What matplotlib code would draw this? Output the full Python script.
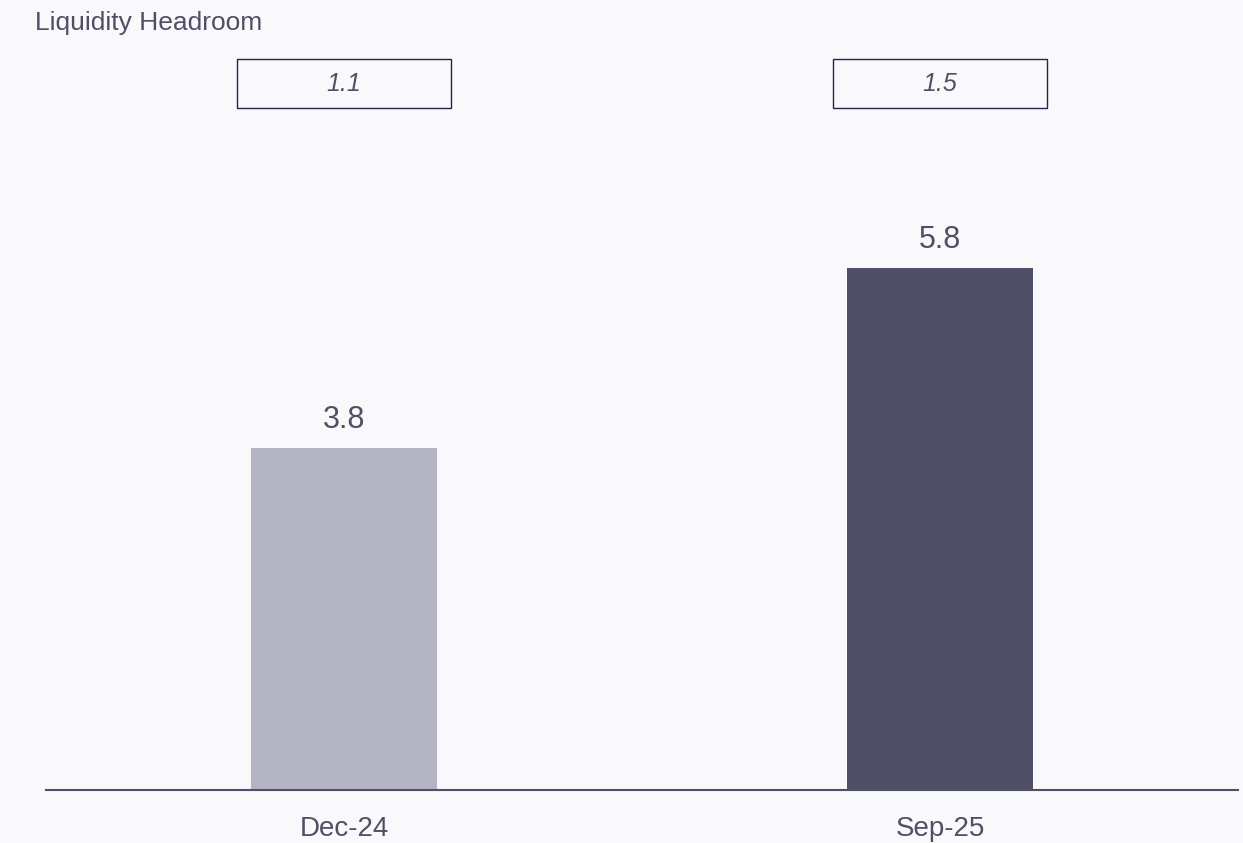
import matplotlib.pyplot as plt
from matplotlib.patches import Rectangle
import matplotlib.transforms as mtransforms

plt.rcParams['font.family'] = ['Liberation Sans', 'DejaVu Sans']

# data
periods = ['Dec-24', 'Sep-25']
headroom = [3.8, 5.8]
box_values = [1.1, 1.5]
bar_colors = ['#B5B4C5', '#4F4F66']

text_color = '#4F4F66'
bg = '#F9F9FC'

fig = plt.figure(figsize=(12.43, 8.43), dpi=100, facecolor=bg)
ax = fig.add_axes([46 / 1243, 53 / 843, 1192 / 1243, 790 / 843])
ax.set_facecolor(bg)

x = list(range(len(periods)))
bars = ax.bar(x, headroom, width=0.313, color=bar_colors)

# value labels above bars
for xi, v in zip(x, headroom):
    ax.text(xi, v + 0.14, f'{v:.1f}', ha='center', va='bottom',
            fontsize=22, color=text_color)

# boxed values at the top
trans = mtransforms.blended_transform_factory(ax.transData, ax.transAxes)
box_w = 0.358
for xi, v in zip(x, box_values):
    rect = Rectangle((xi - box_w / 2, 0.863), box_w, 0.062, transform=trans,
                     facecolor='none', edgecolor='#24244F', linewidth=1.0,
                     clip_on=False)
    ax.add_patch(rect)
    ax.text(xi, 0.894, f'{v:.1f}', transform=trans, ha='center', va='center',
            fontsize=18, style='italic', color=text_color)

ax.set_xlim(-0.5, 1.5)
ax.set_ylim(0, 790 / 90)
ax.set_xticks(x)
ax.set_xticklabels(periods, fontsize=20, color=text_color)
ax.tick_params(axis='x', length=0, pad=19)
ax.set_yticks([])
for side in ['top', 'right', 'left']:
    ax.spines[side].set_visible(False)
ax.spines['bottom'].set_color(text_color)
ax.spines['bottom'].set_linewidth(1.5)

fig.text(35 / 1243, 1 - 23 / 843, 'Liquidity Headroom', ha='left', va='center',
         fontsize=19, color=text_color)

fig.savefig('out.png', dpi=100, facecolor=bg)
